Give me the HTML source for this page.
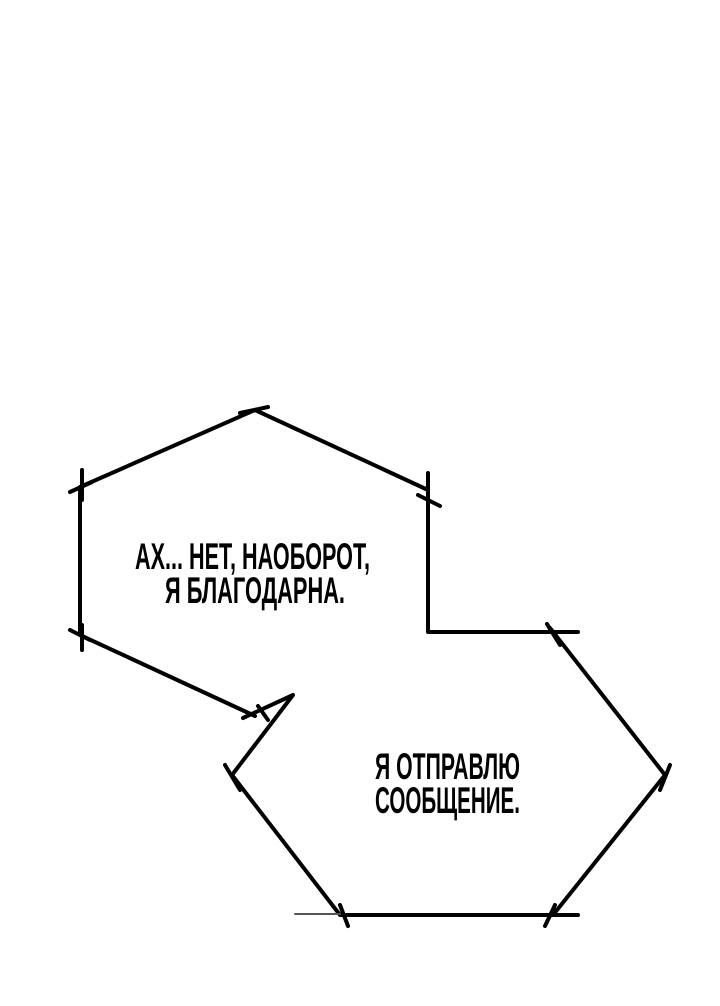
<!DOCTYPE html>
<html><head><meta charset="utf-8"><style>
html,body{margin:0;padding:0;background:#fff;}
svg{display:block;}
text{font-family:"Liberation Sans Narrow","Liberation Sans",sans-serif;font-weight:bold;font-size:37px;fill:#000;}
</style></head><body>
<svg width="720" height="1006" viewBox="0 0 720 1006" xmlns="http://www.w3.org/2000/svg">
<g stroke="#000" stroke-width="4" fill="none" stroke-linecap="round" stroke-linejoin="round">
<polyline points="255,410 80,487 80,635 255,716"/>
<polyline points="255,410 428,490 428,632 578,632"/>
<polyline points="243,718 293,695 232,775"/>
<line x1="258" y1="706" x2="268" y2="720"/>
<polyline points="550,628 665,775 553,915"/>
<polyline points="232,775 340,915 578,915"/>
<line x1="295" y1="914" x2="340" y2="914" stroke-width="2" stroke="#555"/>
<line x1="240" y1="413" x2="268" y2="407"/>
<line x1="70" y1="492" x2="92" y2="482"/>
<line x1="82" y1="470" x2="82" y2="500"/>
<line x1="418" y1="495" x2="440" y2="506"/>
<line x1="428" y1="473" x2="428" y2="500"/>
<line x1="70" y1="630" x2="90" y2="640"/>
<line x1="82" y1="625" x2="82" y2="650"/>
<line x1="547" y1="624" x2="560" y2="645"/>
<line x1="660" y1="790" x2="670" y2="765"/>
<line x1="225" y1="765" x2="240" y2="790"/>
<line x1="340" y1="905" x2="348" y2="926"/>
<line x1="545" y1="926" x2="555" y2="905"/>
</g>
<text x="135" y="569" textLength="235" lengthAdjust="spacingAndGlyphs">АХ... НЕТ, НАОБОРОТ,</text>
<text x="165" y="603" textLength="180" lengthAdjust="spacingAndGlyphs">Я БЛАГОДАРНА.</text>
<text x="375" y="779" textLength="145" lengthAdjust="spacingAndGlyphs">Я ОТПРАВЛЮ</text>
<text x="375" y="813" textLength="145" lengthAdjust="spacingAndGlyphs">СООБЩЕНИЕ.</text>
</svg>
</body></html>
